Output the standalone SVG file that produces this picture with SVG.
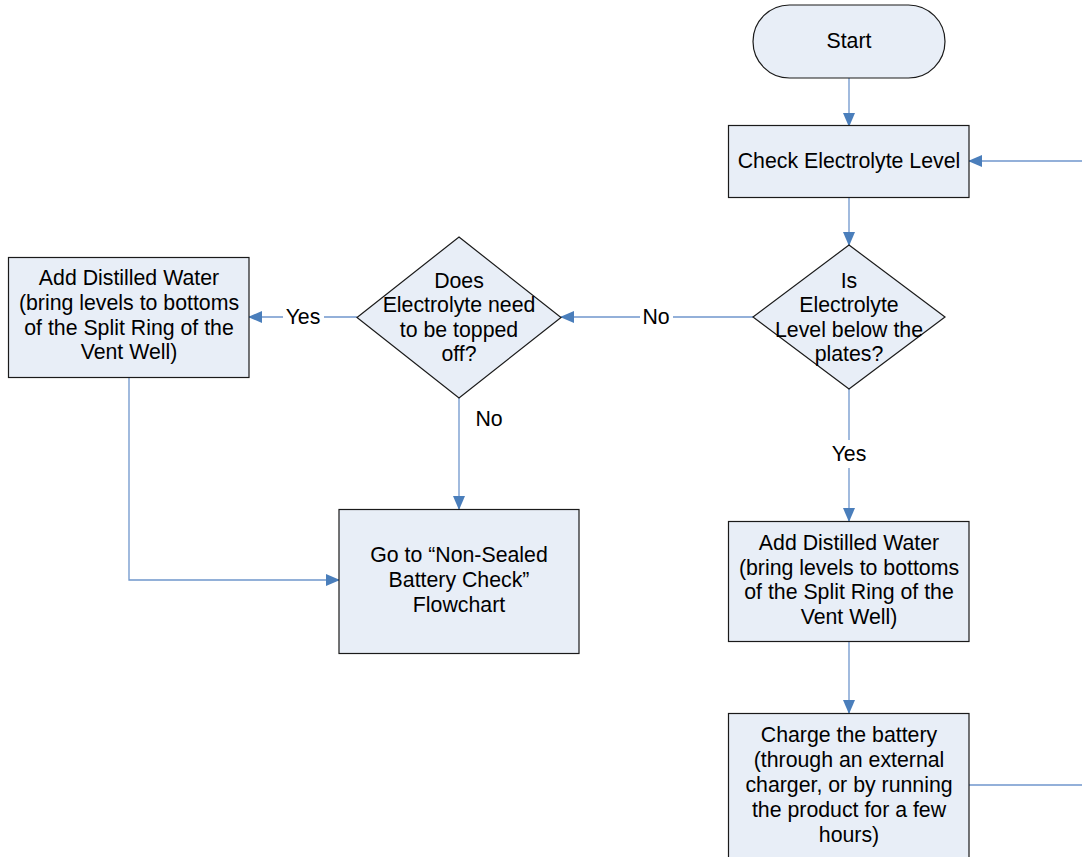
<svg xmlns="http://www.w3.org/2000/svg" width="1082" height="857" viewBox="0 0 1082 857">
<defs>
<marker id="ah" markerWidth="14" markerHeight="12" refX="13" refY="6" orient="auto" markerUnits="userSpaceOnUse">
<path d="M0,0 L14,6 L0,12 Z" fill="#4A7EBB"/>
</marker>
<style>
.n{fill:#E8EEF7;stroke:#1a1a1a;stroke-width:1.2}
.t{font-family:"Liberation Sans",Arial,sans-serif;font-size:21.3px;fill:#000;text-anchor:middle}
.c{fill:none;stroke:#6F96CC;stroke-width:1.3}
.a{marker-end:url(#ah)}
</style>
</defs>
<rect width="1082" height="857" fill="#fff"/>
<g id="connectors">
<line class="c a" x1="849" y1="78" x2="849" y2="126"/>
<line class="c a" x1="1082" y1="161" x2="969" y2="161"/>
<line class="c a" x1="849" y1="198" x2="849" y2="245"/>
<polyline class="c" points="753,317 673,317"/>
<line class="c a" x1="640" y1="317" x2="561" y2="317"/>
<polyline class="c" points="357,317 324,317"/>
<line class="c a" x1="283" y1="317" x2="249" y2="317"/>
<line class="c a" x1="459" y1="398" x2="459" y2="509"/>
<polyline class="c a" points="129,377 129,580 339,580"/>
<line class="c" x1="849" y1="389" x2="849" y2="440"/>
<line class="c a" x1="849" y1="468" x2="849" y2="521"/>
<line class="c a" x1="849" y1="641" x2="849" y2="713"/>
<line class="c" x1="969" y1="785" x2="1082" y2="785"/>
<text class="t" x="656" y="324">No</text>
<text class="t" x="303" y="324">Yes</text>
<text class="t" x="489" y="426">No</text>
<text class="t" x="849" y="461">Yes</text>
</g>
<g id="start">
<rect class="n" x="753" y="5" width="192" height="73" rx="36.5" ry="36.5"/>
<text class="t" x="849" y="48">Start</text>
</g>
<g id="check">
<rect class="n" x="728.5" y="125.5" width="240.5" height="72"/>
<text class="t" x="849" y="168">Check Electrolyte Level</text>
</g>
<g id="isBelow">
<polygon class="n" points="849,245 945,317 849,389 753,317"/>
<text class="t" x="849" y="288">Is</text>
<text class="t" x="849" y="312">Electrolyte</text>
<text class="t" x="849" y="337">Level below the</text>
<text class="t" x="849" y="361">plates?</text>
</g>
<g id="needTop">
<polygon class="n" points="459,237 561,317.5 459,398 357,317.5"/>
<text class="t" x="459" y="288">Does</text>
<text class="t" x="459" y="312">Electrolyte need</text>
<text class="t" x="459" y="337">to be topped</text>
<text class="t" x="459" y="361">off?</text>
</g>
<g id="addLeft">
<rect class="n" x="8.5" y="257.5" width="240.5" height="120"/>
<text class="t" x="129" y="285">Add Distilled Water</text>
<text class="t" x="129" y="310">(bring levels to bottoms</text>
<text class="t" x="129" y="335">of the Split Ring of the</text>
<text class="t" x="129" y="359">Vent Well)</text>
</g>
<g id="goTo">
<rect class="n" x="339" y="509.5" width="240" height="144"/>
<text class="t" x="459" y="562">Go to “Non-Sealed</text>
<text class="t" x="459" y="587">Battery Check”</text>
<text class="t" x="459" y="612">Flowchart</text>
</g>
<g id="addRight">
<rect class="n" x="728.5" y="521.5" width="240.5" height="120"/>
<text class="t" x="849" y="550">Add Distilled Water</text>
<text class="t" x="849" y="575">(bring levels to bottoms</text>
<text class="t" x="849" y="599">of the Split Ring of the</text>
<text class="t" x="849" y="624">Vent Well)</text>
</g>
<g id="charge">
<rect class="n" x="728.5" y="713.5" width="240.5" height="150"/>
<text class="t" x="849" y="742">Charge the battery</text>
<text class="t" x="849" y="767">(through an external</text>
<text class="t" x="849" y="792">charger, or by running</text>
<text class="t" x="849" y="817">the product for a few</text>
<text class="t" x="849" y="842">hours)</text>
</g>
</svg>
